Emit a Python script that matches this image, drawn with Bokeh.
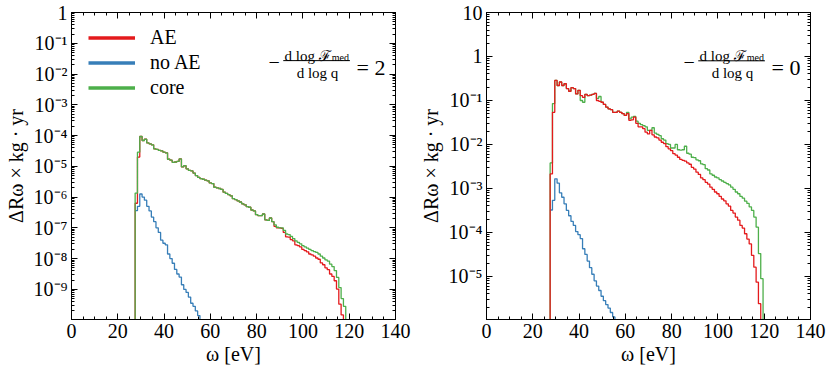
import numpy as np
from bokeh.plotting import figure
from bokeh.models import (LogAxis, LinearAxis, Range1d, Legend, LegendItem, Label, Arrow,
                          CustomJSTickFormatter, FixedTicker, SingleIntervalTicker)
from bokeh.layouts import row
from bokeh.embed import file_html
from bokeh.resources import INLINE

# ---------------- data (log10 of Delta R_omega x kg yr, 1 eV bins) ----------------
FIRST_BIN_CENTER = 28   # eV, centre of the first filled bin
BIN_WIDTH = 1.0         # eV

left_ae_log = [
    -6.2, -4.7, -4.03, -4.16, -4.12, -4.24, -4.27, -4.3, -4.43, -4.45,
    -4.48, -4.5, -4.54, -4.56, -4.77, -4.8, -4.87, -4.86, -4.84, -4.76,
    -5.02, -4.98, -5.08, -5.13, -5.15, -5.22, -5.3, -5.36, -5.4, -5.42,
    -5.45, -5.47, -5.54, -5.56, -5.68, -5.7, -5.72, -5.75, -5.84, -5.88,
    -5.92, -5.96, -6.05, -6.08, -6.12, -6.16, -6.22, -6.25, -6.31, -6.33,
    -6.42, -6.45, -6.57, -6.6, -6.6, -6.55, -6.74, -6.76, -6.68, -6.8,
    -6.95, -7.0, -7.0, -7.02, -7.15, -7.29, -7.3, -7.38, -7.42, -7.55,
    -7.58, -7.62, -7.7, -7.74, -7.78, -7.85, -7.88, -7.92, -7.98, -8.02,
    -8.14, -8.2, -8.3, -8.36, -8.5, -8.58, -8.72, -8.99, -9.48, -9.83,
]
left_noae_log = [
    -6.44, -6.3, -5.9, -6.0, -6.1, -6.3, -6.45, -6.65, -6.8, -7.0,
    -7.15, -7.4, -7.5, -7.55, -7.85, -8.0, -8.15, -8.35, -8.5, -8.6,
    -8.85, -9.0, -9.1, -9.25, -9.45, -9.55, -9.7, -9.85, -10.1, -10.3,
]
left_core_log = [
    -5.87, -4.54, -4.03, -4.16, -4.12, -4.24, -4.27, -4.3, -4.43, -4.45,
    -4.48, -4.5, -4.54, -4.56, -4.77, -4.8, -4.87, -4.86, -4.84, -4.76,
    -5.02, -4.98, -5.08, -5.13, -5.15, -5.22, -5.3, -5.36, -5.4, -5.42,
    -5.45, -5.47, -5.54, -5.56, -5.68, -5.7, -5.72, -5.75, -5.84, -5.88,
    -5.92, -5.96, -6.05, -6.08, -6.12, -6.16, -6.22, -6.25, -6.31, -6.33,
    -6.42, -6.45, -6.57, -6.6, -6.6, -6.55, -6.74, -6.76, -6.68, -6.8,
    -6.9, -6.98, -7.0, -7.0, -7.08, -7.2, -7.22, -7.28, -7.35, -7.42,
    -7.47, -7.52, -7.58, -7.62, -7.66, -7.7, -7.74, -7.77, -7.8, -7.85,
    -7.92, -7.98, -8.04, -8.08, -8.18, -8.26, -8.39, -8.61, -8.94, -9.3,
    -9.55,
]

right_ae_log = [
    -2.67, -1.27, -0.545, -0.66, -0.58, -0.66, -0.62, -0.73, -0.79, -0.71,
    -0.73, -0.85, -0.77, -0.89, -0.93, -0.86, -0.89, -0.88, -0.86, -0.84,
    -1.0, -1.02, -1.04, -1.09, -1.15, -1.19, -1.21, -1.27, -1.27, -1.24,
    -1.27, -1.3, -1.34, -1.3, -1.45, -1.44, -1.38, -1.52, -1.6, -1.6,
    -1.64, -1.72, -1.76, -1.68, -1.78, -1.83, -1.85, -1.9, -1.95, -1.98,
    -2.05, -2.1, -2.14, -2.21, -2.24, -2.29, -2.34, -2.36, -2.38, -2.42,
    -2.45, -2.52, -2.56, -2.63, -2.68, -2.76, -2.8, -2.86, -2.9, -2.97,
    -3.02, -3.08, -3.12, -3.18, -3.24, -3.28, -3.35, -3.4, -3.5, -3.56,
    -3.65, -3.72, -3.84, -3.9, -4.03, -4.15, -4.26, -4.52, -4.79, -5.13,
    -5.62,
]
right_noae_log = [
    -3.49, -3.27, -2.78, -2.88, -3.1, -3.2, -3.35, -3.5, -3.62, -3.75,
    -3.84, -3.98, -4.05, -4.14, -4.37, -4.5, -4.65, -4.8, -4.95, -5.1,
    -5.22, -5.32, -5.45, -5.55, -5.64, -5.72, -5.82, -5.92, -6.1,
]
right_core_log = [
    -2.42, -1.07, -0.545, -0.66, -0.58, -0.66, -0.62, -0.73, -0.79, -0.71,
    -0.73, -0.85, -0.77, -1.0, -1.04, -0.86, -0.89, -0.88, -0.86, -0.84,
    -0.95, -0.91, -1.04, -1.09, -1.15, -1.19, -1.21, -1.27, -1.27, -1.24,
    -1.27, -1.3, -1.34, -1.27, -1.42, -1.38, -1.36, -1.47, -1.52, -1.55,
    -1.57, -1.6, -1.68, -1.68, -1.62, -1.74, -1.77, -1.8, -1.87, -1.9,
    -1.98, -2.0, -2.08, -2.08, -2.0, -2.12, -2.13, -2.12, -2.04, -2.2,
    -2.22, -2.29, -2.3, -2.35, -2.37, -2.44, -2.46, -2.55, -2.58, -2.67,
    -2.7, -2.74, -2.76, -2.8, -2.83, -2.86, -2.89, -2.92, -2.97, -3.02,
    -3.08, -3.12, -3.18, -3.22, -3.29, -3.34, -3.42, -3.5, -3.65, -3.88,
    -4.48, -5.05,
]

series_labels = ["AE", "no AE", "core"]
x_ticks_interval = 20
left_title = "= 2"
right_title = "= 0"

# ---------------- style ----------------
RED = "#e41a1c"
BLUE = "#377eb8"
GREEN = "#4daf4a"
FONT = "Liberation Serif"
FLOOR = 1e-14
W, H = 415, 373


def step_xy(logs, rise_from_floor):
    vals = [10.0 ** v for v in logs]
    edges = [FIRST_BIN_CENTER - BIN_WIDTH / 2 + i * BIN_WIDTH for i in range(len(vals) + 1)]
    xs = list(edges)
    ys = vals + [FLOOR]
    if rise_from_floor:
        xs = [edges[0] - BIN_WIDTH] + xs
        ys = [FLOOR] + ys
    return xs, ys


tick_js = """
const e = Math.round(Math.log10(tick));
if (e === 0) return "1";
if (e === 1) return "10";
const sup = {"-": "\\u207b", "0": "\\u2070", "1": "\\u00b9", "2": "\\u00b2", "3": "\\u00b3",
             "4": "\\u2074", "5": "\\u2075", "6": "\\u2076", "7": "\\u2077", "8": "\\u2078", "9": "\\u2079"};
return "10" + String(e).split("").map(c => sup[c]).join("");
"""


def style_axis(ax, labels=True):
    ax.axis_line_color = "black"
    ax.major_tick_line_color = "black"
    ax.minor_tick_line_color = "black"
    ax.major_tick_in = 6
    ax.major_tick_out = 0
    ax.minor_tick_in = 3
    ax.minor_tick_out = 0
    if labels:
        ax.major_label_text_font = FONT
        ax.major_label_text_font_size = "20px"
        ax.major_label_text_color = "black"
        ax.major_label_standoff = 4
        ax.axis_label_text_font = FONT
        ax.axis_label_text_font_size = "20px"
        ax.axis_label_text_font_style = "normal"
        ax.axis_label_text_color = "black"
    else:
        ax.formatter = CustomJSTickFormatter(code='return "";')
        ax.major_label_text_font_size = "1px"
        ax.major_label_standoff = 0


def make_panel(y_lo, y_hi, major_decades, minor_decades):
    p = figure(width=W, height=H, x_range=Range1d(0, 140), y_range=Range1d(y_lo, y_hi),
               y_axis_type="log", output_backend="svg", toolbar_location=None,
               min_border_left=71, min_border_right=20,
               min_border_top=12, min_border_bottom=54)
    p.grid.visible = False
    p.outline_line_color = "black"
    p.background_fill_color = "white"
    p.border_fill_color = "white"

    xt = SingleIntervalTicker(interval=x_ticks_interval, num_minor_ticks=4)
    majors = [10.0 ** k for k in major_decades]
    minors = [m * 10.0 ** k for k in minor_decades for m in range(2, 10)]
    yt = FixedTicker(ticks=majors, minor_ticks=minors)

    p.xaxis.ticker = xt
    p.yaxis.ticker = yt
    p.yaxis.formatter = CustomJSTickFormatter(code=tick_js)
    p.xaxis.axis_label = "ω [eV]"
    p.yaxis.axis_label = "ΔRω × kg · yr"
    style_axis(p.xaxis[0])
    style_axis(p.yaxis[0])
    p.xaxis.axis_label_standoff = 2
    p.yaxis.axis_label_standoff = 4

    top = LinearAxis(ticker=xt)
    style_axis(top, labels=False)
    p.add_layout(top, "above")
    right = LogAxis(ticker=yt)
    style_axis(right, labels=False)
    p.add_layout(right, "right")
    return p


def add_fraction(p, ys, rhs):
    y_minus, y_num, y_sub, y_bar, y_den, y_eq = ys
    kw = dict(text_font=FONT, text_color="black", text_baseline="alphabetic")
    p.add_layout(Label(x=85.1, y=y_minus, text="−", text_font_size="20px", text_align="left", **kw))
    p.add_layout(Label(x=112.0, y=y_num, text="d log ℱ", text_font_size="15px", text_align="right", **kw))
    p.add_layout(Label(x=112.0, y=y_sub, text="med", text_font_size="10px", text_align="left",
                       x_offset=1, **kw))
    p.add_layout(Arrow(start=None, end=None, x_start=91.5, x_end=120.3, y_start=y_bar, y_end=y_bar,
                       line_width=1, line_color="black"))
    p.add_layout(Label(x=106.3, y=y_den, text="d log q", text_font_size="15px", text_align="center", **kw))
    p.add_layout(Label(x=123.2, y=y_eq, text=rhs, text_font_size="22px", text_align="left", **kw))


# ---------------- left panel ----------------
p1 = make_panel(1.05e-10, 1.0, range(-9, 1), range(-10, 1))
x, y = step_xy(left_ae_log, True)
p1.step(x, y, mode="after", line_color=RED, line_width=1.3)
x, y = step_xy(left_noae_log, False)
p1.step(x, y, mode="after", line_color=BLUE, line_width=1.3)
x, y = step_xy(left_core_log, True)
p1.step(x, y, mode="after", line_color=GREEN, line_width=1.3)

legend_renderers = [p1.line(x=[np.nan], y=[np.nan], line_color=c, line_width=3.5) for c in (RED, BLUE, GREEN)]
legend = Legend(items=[LegendItem(label=lab, renderers=[r]) for lab, r in zip(series_labels, legend_renderers)],
                location=(17, 219), margin=0, padding=0, spacing=0,
                glyph_width=47, glyph_height=25, label_height=25, label_standoff=15,
                label_text_font=FONT, label_text_font_size="20px", label_text_baseline="middle",
                label_text_color="black",
                background_fill_alpha=0, border_line_alpha=0)
p1.add_layout(legend)

add_fraction(p1, [10 ** -1.619, 10 ** -1.401, 10 ** -1.472, 10 ** -1.564, 10 ** -1.977, 10 ** -1.782],
             left_title)

# ---------------- right panel ----------------
p2 = make_panel(1.05e-6, 10.0, range(-5, 2), range(-6, 2))
x, y = step_xy(right_core_log, True)
p2.step(x, y, mode="after", line_color=GREEN, line_width=1.3)
x, y = step_xy(right_noae_log, False)
p2.step(x, y, mode="after", line_color=BLUE, line_width=1.3)
x, y = step_xy(right_ae_log, True)
p2.step(x, y, mode="after", line_color=RED, line_width=1.3)

add_fraction(p2, [10 ** -0.136, 10 ** 0.016, 10 ** -0.034, 10 ** -0.098, 10 ** -0.386, 10 ** -0.25],
             right_title)

layout = row(p1, p2)
open("out.html", "w").write(file_html(layout, INLINE))
